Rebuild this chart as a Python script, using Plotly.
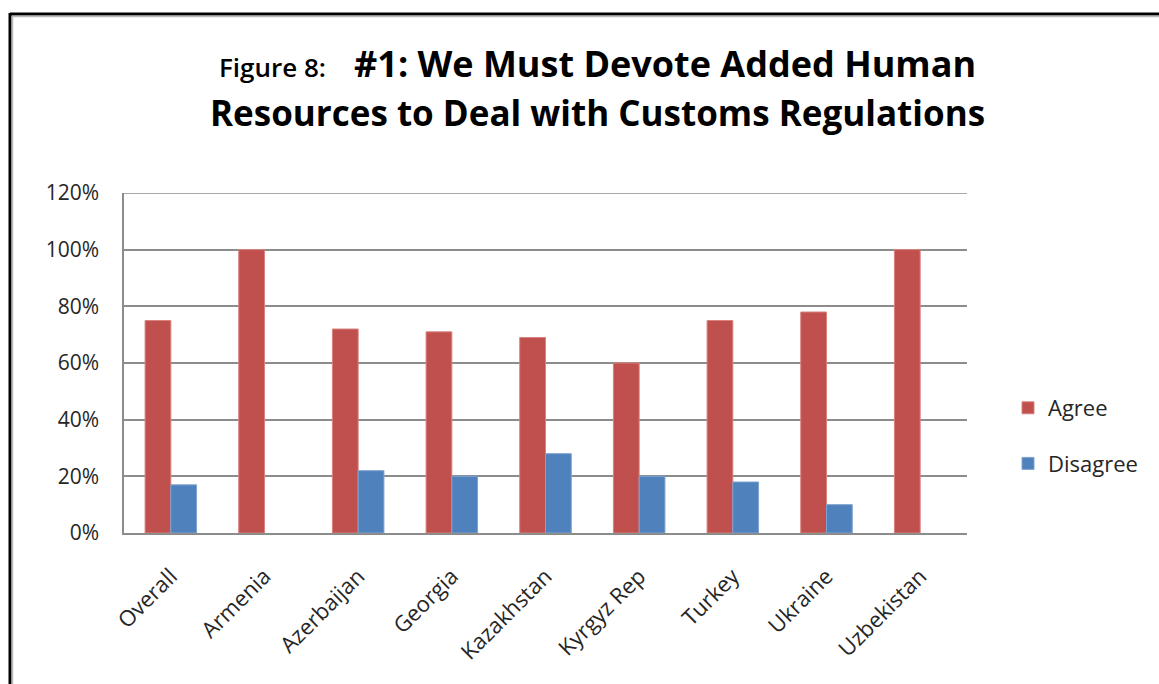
import plotly.graph_objects as go

# Survey responses by country
categories = ["Overall", "Armenia", "Azerbaijan", "Georgia", "Kazakhstan",
              "Kyrgyz Rep", "Turkey", "Ukraine", "Uzbekistan"]
agree = [0.75, 1.00, 0.72, 0.71, 0.69, 0.60, 0.75, 0.78, 1.00]
disagree = [0.17, None, 0.22, 0.20, 0.28, 0.20, 0.18, 0.10, None]
y_ticks = [0, 0.2, 0.4, 0.6, 0.8, 1.0, 1.2]
y_tick_labels = ["0%", "20%", "40%", "60%", "80%", "100%", "120%"]

FONT = "Open Sans"
W, H = 1159, 684
L, R, T, B = 124, 192, 193, 151
PW, PH = W - L - R, H - T - B


def px_x(x):
    return (x - L) / PW


def px_y(y):
    return (H - B - y) / PH


fig = go.Figure()
fig.add_trace(go.Bar(
    x=categories, y=agree, name="Agree", legendgroup="a",
    marker=dict(color="#C0504D", line=dict(color="#D9827F", width=1)),
))
fig.add_trace(go.Bar(
    x=categories, y=disagree, name="Disagree", legendgroup="d",
    marker=dict(color="#4F81BD", line=dict(color="#7FA3D0", width=1)),
))

# Title lines
fig.add_annotation(
    x=px_x(597), y=px_y(63), xref="paper", yref="paper",
    xanchor="center", yanchor="middle", showarrow=False,
    text=("<span style='font-size:26px;font-weight:600'>Figure 8:</span>"
          "   <b>#1: We Must Devote Added Human</b>"),
    font=dict(family=FONT, size=36, color="#000000"),
)
fig.add_annotation(
    x=px_x(597), y=px_y(113), xref="paper", yref="paper",
    xanchor="center", yanchor="middle", showarrow=False,
    text="<b>Resources to Deal with Customs Regulations</b>",
    font=dict(family=FONT, size=35, color="#000000"),
)

# Top gridline at 120%
fig.add_shape(type="line", xref="paper", yref="y",
              x0=0, x1=1, y0=1.2, y1=1.2,
              line=dict(color="#8C8C8C", width=1.5))

# Frame lines along the top and left edges
fig.add_shape(type="line", xref="paper", yref="paper",
              x0=px_x(10), x1=px_x(W), y0=px_y(14), y1=px_y(14),
              line=dict(color="#000000", width=3))
fig.add_shape(type="line", xref="paper", yref="paper",
              x0=px_x(10), x1=px_x(10), y0=px_y(13), y1=px_y(H),
              line=dict(color="#000000", width=3))
fig.add_shape(type="line", xref="paper", yref="paper",
              x0=px_x(12), x1=px_x(W), y0=px_y(16.5), y1=px_y(16.5),
              line=dict(color="#BBBBBB", width=1.5))
fig.add_shape(type="line", xref="paper", yref="paper",
              x0=px_x(12.5), x1=px_x(12.5), y0=px_y(16), y1=px_y(H),
              line=dict(color="#BBBBBB", width=1.5))

fig.update_layout(
    width=W, height=H,
    margin=dict(l=L, r=R, t=T, b=B),
    paper_bgcolor="white", plot_bgcolor="white",
    barmode="group", bargap=0.45, bargroupgap=0,
    font=dict(family=FONT, color="#262626"),
    showlegend=True,
    legend=dict(
        x=px_x(1008), y=px_y(436), xanchor="left", yanchor="middle",
        font=dict(family=FONT, size=22, color="#262626"),
        traceorder="grouped", tracegroupgap=24,
        bgcolor="rgba(0,0,0,0)",
    ),
    xaxis=dict(
        tickangle=-45, tickfont=dict(size=22, color="#262626"),
        showline=True, linecolor="#8C8C8C", linewidth=1.5,
        showgrid=False, ticks="", ticklabelstandoff=20,
    ),
    yaxis=dict(
        range=[0, 1.2], tickvals=y_ticks, ticktext=y_tick_labels,
        tickfont=dict(size=21, color="#262626"),
        showgrid=True, gridcolor="#8C8C8C", gridwidth=1.5,
        showline=True, linecolor="#8C8C8C", linewidth=1.5,
        ticks="", ticklabelstandoff=19, zeroline=False,
    ),
)

fig.write_html("out.html")
